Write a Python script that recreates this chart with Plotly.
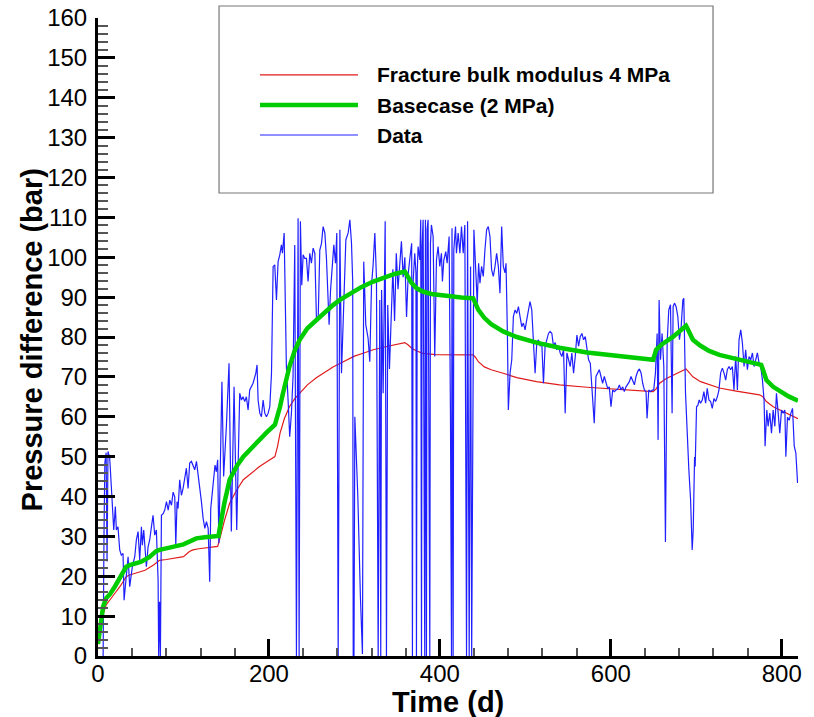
import plotly.graph_objects as go

# ---------------- data ----------------
model4_t = [0, 3, 6, 9.5, 14, 20, 26, 33, 37, 45, 55, 65, 72, 80, 90, 100, 107, 111, 118, 128,
            140, 142, 144, 148, 154, 162, 170, 180, 189, 198, 207, 210, 213, 218, 224, 230, 236,
            245, 255, 263, 275, 287, 300, 311, 322, 335, 347, 359, 363, 367, 373, 380, 395, 412,
            425, 439, 442, 445, 452, 460, 474, 490, 513, 540, 572, 610, 649.5, 653, 657, 665, 675,
            688, 690, 693, 696, 705, 715, 727, 745, 760, 774, 778, 782, 790, 798, 808, 819]
model4_p = [3, 7, 10.5, 12.8, 14, 15.8, 17.5, 19.9, 20.3, 20.8, 21.5, 22.8, 24, 24.2, 24.5, 24.9,
            26.2, 26.6, 26.9, 27.1, 27.5, 29, 30.8, 34, 38.3, 41.5, 44.2, 46, 47.5, 48.8, 50, 52.5,
            55.9, 59.5, 62.5, 64.5, 65.9, 68, 69.7, 70.9, 72.5, 73.8, 75.2, 76, 76.8, 77.5, 78.1,
            78.6, 78, 77.2, 76.5, 75.9, 75.6, 75.5, 75.5, 75.5, 74.8, 73.8, 72.5, 71.8, 70.9, 69.8,
            68.8, 68, 67.4, 66.8, 66.3, 67, 68.4, 69.6, 70.7, 72, 71.5, 70.8, 70, 68.8, 68, 67.2,
            66.5, 66, 65.5, 65, 63.8, 62.5, 61.7, 60.6, 59.5]

base_t = [0, 2, 6, 9.5, 14, 20, 26, 33, 37, 41, 50, 60, 68, 72, 80, 90, 100, 107, 111, 115, 125,
          135, 141, 142, 144, 148, 154, 162, 170, 180, 189, 198, 207, 210, 213, 216, 220, 224, 230,
          236, 245, 255.5, 265, 275, 283, 295, 308, 322, 335, 347, 359, 363, 367, 373, 380, 390,
          400, 412, 425, 439, 442, 445, 452, 460, 474, 490, 513, 540, 572, 610, 649.5, 653, 660,
          673, 688, 690, 693, 696, 705, 715, 727, 745, 760, 776, 778, 782, 790, 798, 808, 819]
base_p = [3, 6.5, 12.4, 14.5, 15.5, 17.5, 19.7, 22.4, 22.8, 23, 23.6, 24.8, 26.3, 26.6, 27.1, 27.5,
          28, 28.7, 29.3, 29.5, 29.8, 29.9, 30.1, 31.5, 34.1, 38.5, 44.2, 47.5, 50, 52.3, 54.2, 56.2,
          58, 60, 62.5, 65.5, 69.2, 72.6, 76.5, 79.3, 82.2, 84.3, 86.2, 88, 89.3, 90.9, 92.5, 93.9,
          95, 95.8, 96.4, 95, 93.5, 92.2, 91.4, 90.8, 90.5, 90.1, 89.9, 89.7, 88.3, 86.8, 84.8,
          83.2, 81.4, 80, 78.6, 77.3, 76.1, 75.1, 74.3, 76.8, 78.2, 80.1, 82.8, 82, 80.5, 79.3,
          77.8, 76.5, 75.5, 74.5, 73.7, 73, 71.8, 69.2, 67.5, 66.3, 65.1, 64]

data_t = [5.5, 6, 7, 8, 9.5, 10.6, 11.7, 13.7, 15.6, 17.6, 18.4, 20.3, 21.5, 23.4, 25.4, 27.3, 29.3,
          30.5, 33.2, 35.2, 37.1, 40.2, 43, 44.9, 46.9, 48.8, 50.8, 51.9, 53.5, 56.6, 58.6, 60.5,
          62.5, 64.4, 66.4, 68.3, 70.3, 71, 72, 73, 74.2, 76.2, 78.1, 80.1, 82.1, 84, 86, 87.9,
          89.8, 91, 92.5, 93.7, 95.6, 97.6, 99.5, 101.5, 103.4, 105.4, 107.3, 109.3, 111.2, 113.2,
          115.2, 117.1, 119.1, 121, 123, 125, 126.9, 128.9, 130.7, 131.9, 133.8, 135.4, 136.9,
          138.5, 140, 141.4, 143, 145, 147, 150.2, 153.3, 156, 159.2, 162.3, 165.8, 167.8, 169.7,
          171.7, 173.6, 175.6, 177.5, 181.4, 184.6, 186.1, 187.3, 189.3, 191.2, 193.2, 195.1,
          197.1, 199.1, 201, 203, 204.9, 206.8, 208.8, 210.7, 212.7, 214.6, 215.8, 217.8, 220.4,
          222.4, 224.3, 226.3, 228.2, 230.2, 232.2, 234.1, 235.3, 236.8, 238.4, 240, 241.9, 243.9,
          245.8, 247.8, 249.7, 251.7, 253.7, 255.6, 257.6, 259.5, 261.5, 263.4, 265.4, 267.3,
          269.3, 270.4, 272, 274.4, 275.9, 277.9, 279.4, 281, 283, 284.9, 286.9, 290, 292.7, 294.7,
          296.6, 298, 298.6, 299.5, 300.5, 304, 307, 309.4, 310.9, 313.3, 316, 318, 320, 321.9,
          323.9, 325.8, 327.8, 329.7, 330.8, 331.8, 333.6, 336, 337.5, 339, 341, 343, 345, 347,
          349, 351, 353, 355, 357, 359, 361, 363, 365, 367, 367.9, 368.6, 370.6, 372, 372.6, 373.5,
          374.5, 376.5, 377.6, 378.5, 379.2, 380.4, 382.3, 383.1, 384.3, 385, 386.2, 388.2, 389,
          390.1, 392.1, 394, 396, 397.9, 399.9, 401.8, 403, 404.6, 406.9, 408.5, 410.8, 412.4,
          413.6, 414.2, 415.5, 416.3, 418.3, 419.4, 421.4, 423.4, 425.3, 427.3, 429.2, 431.2,
          432.4, 434.3, 435.9, 437.2, 439.8, 442.2, 443.7, 445.3, 446.9, 448.8, 450.8, 452.7,
          454.7, 456.6, 458.6, 460.5, 462.5, 464.5, 466.4, 468.4, 470.3, 472.3, 474.2, 476.2,
          477.4, 479, 480.1, 482.1, 484.1, 486, 488, 489.9, 491.9, 493.8, 495.8, 497.7, 499.7,
          501.6, 503.6, 505.5, 507.5, 509.5, 511.4, 513.4, 515.3, 517.3, 519.2, 521.2, 523.1,
          525.1, 527.1, 529, 531, 532.9, 534.9, 536.8, 538.8, 540.8, 542.7, 544.7, 546.6, 548.6,
          550.5, 552.5, 554.4, 556.4, 558.4, 560.3, 562.3, 564.2, 566.2, 568.1, 570.1, 572, 574,
          576, 577.9, 579.1, 580.6, 582.6, 584.6, 586.5, 588.5, 590.4, 592.4, 594.3, 596.3, 598.2,
          600.2, 602.2, 604.1, 606.1, 608, 610, 611.9, 613.9, 615.8, 617.8, 619.7, 621.7, 623.6,
          625.6, 627.6, 629.5, 631.5, 633.4, 635.4, 637.3, 639.3, 641.2, 642.4, 644.4, 646.3,
          648.3, 650.2, 652.2, 654.2, 655.3, 656.5, 658.1, 660, 662, 663.9, 665.9, 667.8, 669.8,
          671.7, 672.9, 674.5, 676.4, 678.4, 680.3, 682.3, 684.3, 685.4, 687.4, 689.4, 691.3,
          693.3, 695.2, 696.4, 698, 698.7, 700.3, 701.9, 703.4, 705, 707, 708.9, 710.9, 712.8,
          714.8, 716.8, 718.7, 720.7, 722.6, 724.6, 726.5, 728.5, 730.5, 732.4, 734.4, 736.3,
          738.3, 740.2, 742.2, 744.1, 746.1, 748.1, 750, 752, 753.9, 755.9, 757.8, 759.8, 761.7,
          763.7, 765.7, 767.6, 769.6, 771.5, 773.5, 775.4, 777.4, 779.3, 780.5, 782.5, 784, 786,
          788, 789.9, 791.9, 793.8, 795.8, 797.7, 799.7, 801.6, 803.6, 804.8, 806.7, 808.7, 810.7,
          812.6, 814.6, 816.5, 818.5]
data_p = [0, 0, 30, 48.3, 51, 23.7, 51.3, 49.6, 42.5, 35.8, 31.6, 37.5, 31.6, 32.4, 26.6, 25.3, 25.7,
          14, 20.7, 24.9, 17.4, 22.4, 24.9, 29.1, 31.2, 24.1, 32.4, 27.8, 31.6, 22.4, 27.4, 29.1,
          32.4, 35.3, 30.3, 31.6, 19.1, 0, 13.6, 0, 35.3, 35.7, 36.6, 38.7, 36.6, 39.1, 37.8, 41.1,
          39.9, 27.8, 38.7, 37, 44.2, 40.3, 42, 44.6, 47.1, 42, 48.4, 48.8, 47.5, 46.7,
          48.8, 45.8, 42.9, 38.7, 34.5, 32, 33.7, 32, 18.6, 37, 41.1, 44.6, 47.9,
          46.2, 49.2, 28.3, 50, 68.8, 45, 57.6, 73.4, 31.2, 67.5, 31.6, 65.9, 64.2, 65,
          63.8, 65, 61.7, 66.7, 68.4, 70.9, 73, 64.2, 60.9, 60, 64.2, 60.9,
          60, 60.9, 62.5, 70.9, 97.7, 98.1, 89.3, 98.9, 100.6, 103.1, 101, 106.1, 72.6,
          64.2, 55, 60.9, 70.1, 103.1, 0, 109.8, 0, 109, 93, 100.6, 99.7, 99.7,
          93.9, 101, 98.5, 102.3, 101, 84.3, 84.3, 101.8, 103.5, 107.7, 106.1, 99.7,
          90.6, 83.1, 91.4, 97.3, 103.1, 98.5, 106.1, 0, 106.9, 70.9, 85.1, 104.4, 106.1, 109.4,
          103.5, 93.9, 0, 0, 60, 40, 15, 0.5, 98.9, 83.1, 79.7, 73.8, 93, 98.1,
          106.1, 94.8, 0, 89.3, 0, 91.8, 65.9, 109, 0, 88, 72, 86, 97, 84,
          101, 92, 99, 104, 95, 100, 85, 96, 100, 103.5, 0, 93.5, 101, 96.1, 0, 96,
          102.7, 99.3, 109.4, 0, 102.7, 109.4, 0, 109.4, 0, 106.9, 109.4, 0, 103.5,
          108.1, 105.2, 75.1, 99.3, 102.7, 97.7, 101, 93.9, 99.3, 101.4, 98.5, 105.2, 59.9,
          0, 107.3, 0, 101.8, 107.7, 101, 106.1, 101, 107.7, 101, 108.1, 0,
          109, 0, 97.7, 0, 106.9, 92.6, 88.5, 98.5, 93.5, 97.7, 95.2, 101.8,
          106.9, 107.7, 105.2, 96.9, 95.2, 97.7, 101, 97.7, 91, 107.7, 97.7, 96.1,
          98.5, 80.9, 61.7, 70.9, 74.3, 85.1, 86.8, 85.9, 87.6, 85.1, 82.6, 83.5, 81.8,
          84.3, 86.8, 88.9, 86.8, 79.3, 70.9, 78.6, 79.3, 77.7, 78.6, 68.4, 77.7,
          79.3, 80.9, 81.4, 80.9, 77.7, 78.6, 76.8, 77.7, 76, 75.1, 76.8, 60.9, 76,
          74.3, 72.6, 76, 70.9, 75.1, 80.5, 77.7, 80.1, 80.9, 79.3, 80.1, 76.8, 74.3,
          73.4, 67.5, 65, 58.4, 70.1, 70.9, 71.8, 70.1, 68.4, 70.1, 68.8, 67.1, 67.5,
          62.5, 66.7, 66.3, 66.7, 66.9, 68, 66.7, 67.5, 66.3, 67.5, 68, 68.8, 70.1,
          69.2, 68, 70.1, 71.4, 72, 71, 68.4, 66.7, 66.3, 59.6, 66.7, 66.3,
          66.7, 66.7, 71, 80.9, 54.2, 89.3, 74.3, 80.9, 72.6, 28.6, 78.6, 86.8, 88.1,
          60.9, 87.6, 88.5, 87.6, 85.1, 79.3, 82.6, 89.3, 89.7, 65.9, 54.2, 46.7,
          39.3, 26.6, 31.6, 49.9, 47.5, 62.5, 62.9, 64.2, 63.4, 64.2, 66.3, 63.4, 67.1,
          64.2, 63.8, 62.1, 64.6, 63.8, 65, 66.7, 71, 72.2, 71, 69.2, 71.8,
          72.6, 71.8, 72.6, 66.7, 75.1, 66.7, 79.3, 81.8, 78.6, 72.6, 76.8, 71.8, 75.1,
          74.3, 76, 72.6, 74.3, 76, 73.4, 72.6, 69.2, 64.2, 52.6, 61.7, 57.6, 60.9,
          55.9, 61.7, 57.6, 65.9, 60.9, 55.9, 61.7, 60.9, 61.7, 50, 59.9, 59.1, 60.9,
          62.1, 52.6, 50.9, 43.4]

series_names = ["Fracture bulk modulus 4 MPa", "Basecase (2 MPa)", "Data"]
series_colors = ["#e01b1b", "#00cc00", "#2020ff"]
series_widths = [1.2, 4.5, 1.2]

x_ticks = [0, 200, 400, 600, 800]
y_ticks = list(range(0, 161, 10))

FONT = "Arial, 'Liberation Sans', sans-serif"

fig = go.Figure()
fig.add_trace(go.Scatter(x=model4_t, y=model4_p, mode="lines", name=series_names[0],
                         line=dict(color=series_colors[0], width=series_widths[0])))
fig.add_trace(go.Scatter(x=data_t, y=data_p, mode="lines", name=series_names[2],
                         line=dict(color=series_colors[2], width=series_widths[2])))
fig.add_trace(go.Scatter(x=base_t, y=base_p, mode="lines", name=series_names[1],
                         line=dict(color=series_colors[1], width=series_widths[1])))

# manual legend box (Tecplot-style)
shapes = [dict(type="rect", xref="paper", yref="paper", x0=0.1729, x1=0.8786, y0=0.7257, y1=1.0188,
               line=dict(color="#777777", width=1.2), fillcolor="white", layer="above")]
annotations = []
row_y = [0.9107, 0.8636, 0.8166]
for i, yy in zip([0, 1, 2], row_y):
    shapes.append(dict(type="line", xref="paper", yref="paper", x0=0.2314, x1=0.3714, y0=yy, y1=yy,
                       line=dict(color=series_colors[i], width=series_widths[i]), layer="above"))
    annotations.append(dict(xref="paper", yref="paper", x=0.3957, y=yy, xanchor="left", yanchor="middle",
                            text="<b>%s</b>" % series_names[i], showarrow=False,
                            font=dict(family=FONT, size=21, color="black")))

annotations.append(dict(xref="paper", yref="paper", x=-0.094, y=0.495, xanchor="center", yanchor="middle",
                        text="<b>Pressure difference (bar)</b>", textangle=-90, showarrow=False,
                        font=dict(family=FONT, size=29, color="black")))
annotations.append(dict(xref="paper", yref="paper", x=0.5, y=-0.072, xanchor="center", yanchor="middle",
                        text="<b>Time (d)</b>", showarrow=False,
                        font=dict(family=FONT, size=29, color="black")))

fig.update_layout(
    width=814, height=717,
    margin=dict(l=98, r=16, t=18, b=61, autoexpand=False),
    paper_bgcolor="white", plot_bgcolor="white",
    showlegend=False,
    font=dict(family=FONT, color="black"),
    shapes=shapes, annotations=annotations,
)
fig.update_xaxes(range=[0, 819], tickvals=x_ticks, ticktext=[str(v) for v in x_ticks],
                 automargin=False, ticklabeloverflow="allow",
                 showgrid=False, zeroline=False, showline=True, linewidth=3, linecolor="black",
                 ticks="inside", ticklen=17, tickwidth=3, tickcolor="black",
                 tickfont=dict(family=FONT, size=24, color="black"),
                 ticklabelstandoff=-6,
                 minor=dict(dtick=40, tick0=0, ticks="inside", ticklen=8, tickwidth=1.5,
                            tickcolor="#555555", showgrid=False))
fig.update_yaxes(range=[0, 160], tickvals=y_ticks, ticktext=[str(v) for v in y_ticks],
                 automargin=False, ticklabeloverflow="allow",
                 showgrid=False, zeroline=False, showline=True, linewidth=3, linecolor="black",
                 ticks="inside", ticklen=17, tickwidth=3, tickcolor="black",
                 tickfont=dict(family=FONT, size=24, color="black"),
                 ticklabelstandoff=3,
                 minor=dict(dtick=2, tick0=0, ticks="inside", ticklen=10, tickwidth=1.5,
                            tickcolor="#555555", showgrid=False))

# remove the browser's default 8px page margin so the figure fills the window exactly
fig.write_html("out.html", config={"displayModeBar": False},
               post_script="document.body.style.margin='0px';")
